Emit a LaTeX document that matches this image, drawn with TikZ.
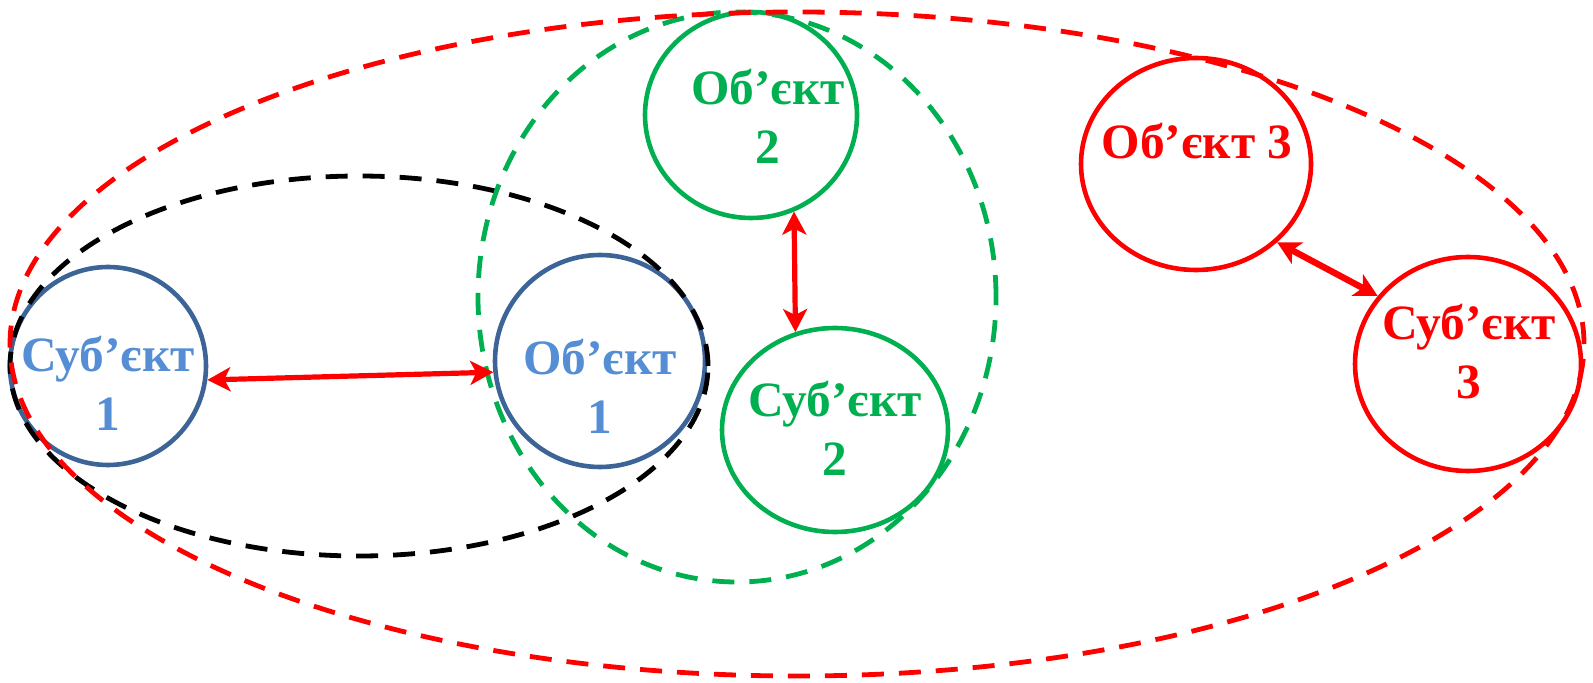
\documentclass[tikz,border=0pt]{standalone}
\usepackage{fontspec}
\setmainfont{Liberation Serif}
\usetikzlibrary{shapes.geometric,arrows.meta}
\definecolor{cblue}{HTML}{3C6497}
\definecolor{tblue}{HTML}{558ED5}
\definecolor{cgreen}{HTML}{00B050}
\definecolor{cred}{HTML}{FF0000}
\tikzset{
  circ/.style={ellipse, draw, line width=2.3pt, inner sep=0pt, minimum width=#1},
  lbl/.style={align=center, font=\fontsize{24.7}{29.5}\selectfont\bfseries, inner sep=0pt},
  dsh/.style={line width=2.4pt, dash pattern=on 11pt off 7.5pt},
  biarrow/.style={cred, line width=2.6pt, {Stealth[length=11.5pt,width=12pt,inset=3pt]}-{Stealth[length=11.5pt,width=12pt,inset=3pt]}},
}
\begin{document}
\begin{tikzpicture}[x=0.5pt,y=-0.5pt]
\useasboundingbox (0,0) rectangle (1593,683);
% circles
\node[circ=98pt, minimum height=99pt, cblue] (s1) at (108,366) {};
\node[circ=105pt, minimum height=106pt, cblue] (o1) at (600,361) {};
\node[circ=106pt, minimum height=103pt, cgreen] (o2) at (751,115) {};
\node[circ=113pt, minimum height=102pt, cgreen] (s2) at (835,430) {};
\node[circ=115pt, minimum height=106pt, cred] (o3) at (1196,164) {};
\node[circ=113pt, minimum height=107pt, cred] (s3) at (1468,364) {};
% dashed groupings
\draw[dsh, black] (359,366) ellipse [x radius=174.5pt, y radius=95pt];
\draw[dsh, cgreen] (737,297) ellipse [x radius=129.5pt, y radius=142.5pt];
\draw[dsh, cred] (797,344) ellipse [x radius=393.5pt, y radius=166pt];
% labels
\node[lbl, tblue] (ts1) at (108,383) {Суб’єкт\\1};
\node[lbl, tblue] (to1) at (600,386) {Об’єкт\\1};
\node[lbl, cgreen] (to2) at (768,116) {Об’єкт\\2};
\node[lbl, cgreen] (ts2) at (835,428) {Суб’єкт\\2};
\node[lbl, cred] (to3) at (1197,141) {Об’єкт 3};
\node[lbl, cred] (ts3) at (1469,352) {Суб’єкт\\3};
% arrows
\draw[biarrow] (s1.-8) -- (o1.-174);
\draw[biarrow] (o2.-66) -- (s2.112);
\draw[biarrow, line width=3.2pt] (o3.-44) -- (s3.143);
\end{tikzpicture}
\end{document}
